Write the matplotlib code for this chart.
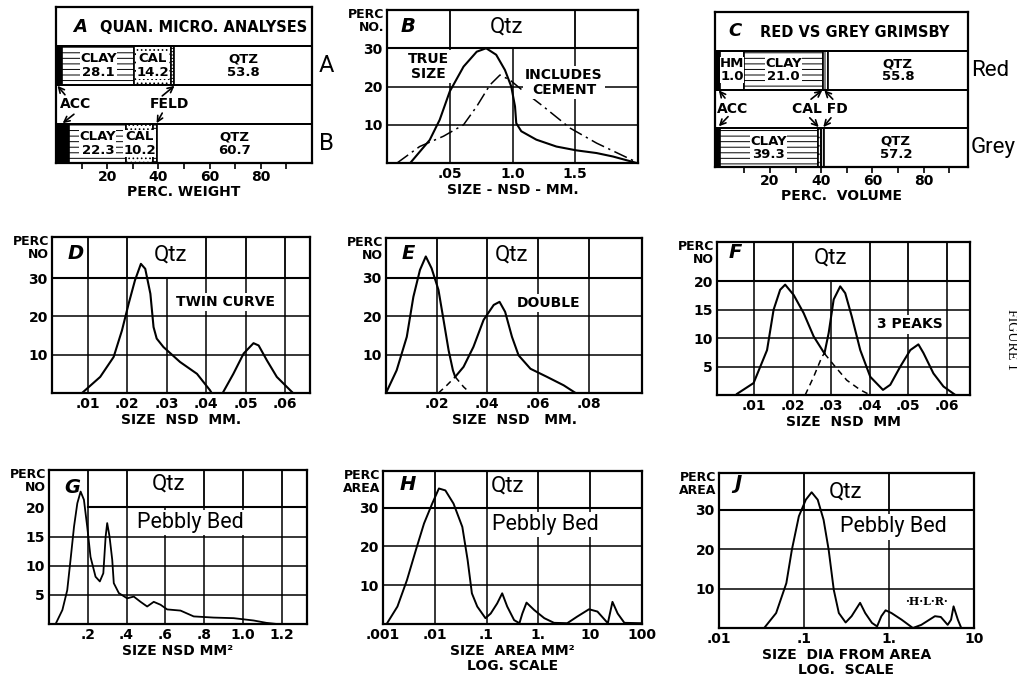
import matplotlib
matplotlib.use('Agg')
import matplotlib.pyplot as plt
from matplotlib.ticker import NullLocator
import numpy as np

plt.rcParams['font.family'] = ['DejaVu Sans']
plt.rcParams['hatch.linewidth'] = 0.7

NARROW = ['Roboto', 'DejaVu Sans']

# A: quan. micro. analyses, perc. weight (ACC, CLAY, CAL, FELD, QTZ)
a_parts = ['ACC', 'CLAY', 'CAL', 'FELD', 'QTZ']
a_row_a = [2.5, 28.1, 14.2, 1.4, 53.8]
a_row_b = [5.2, 22.3, 10.2, 1.6, 60.7]

# C: red vs grey grimsby, perc. volume (widths as drawn, numbers as printed)
c_parts_red = ['ACC', 'HM', 'CLAY', 'CALFD', 'QTZ']
c_red_widths = [1.95, 9.4, 30.8, 1.95, 54.6]
c_red_labels = ['', 'HM\n1.0', 'CLAY\n21.0', '', 'QTZ\n55.8']
c_parts_grey = ['ACC', 'CLAY', 'CAL', 'FD', 'QTZ']
c_grey_widths = [1.95, 38.2, 1.2, 1.2, 56.1]
c_grey_labels = ['', 'CLAY\n39.3', '', '', 'QTZ\n57.2']

# B: Qtz, true size vs includes cement
b_x_true = [0.185, 0.34, 0.42, 0.50, 0.61, 0.715, 0.79, 0.87, 0.94, 0.99, 1.02, 1.03,
            1.07, 1.19, 1.35, 1.51, 1.67, 1.80, 1.99]
b_y_true = [0, 6.0, 11.3, 18.7, 25.2, 29.1, 30.0, 28.3, 24.3, 20.0, 14.8, 10.4,
            8.3, 6.1, 4.3, 3.3, 2.6, 1.7, 0]
b_x_cement = [0.08, 0.26, 0.45, 0.61, 0.715, 0.82, 0.90, 0.98, 1.09, 1.245, 1.46, 1.67, 1.99]
b_y_cement = [0, 4.3, 7.0, 10.0, 14.8, 20.4, 23.0, 21.7, 18.7, 14.8, 9.1, 5.2, 0.2]

# D: twin curve
d_x1 = [0.0086, 0.0132, 0.0166, 0.0187, 0.0204, 0.0220, 0.0235, 0.0246, 0.0259, 0.0267,
        0.0275, 0.0292, 0.0334, 0.0377, 0.0410, 0.0414]
d_y1 = [0, 4.2, 9.4, 16.3, 23.3, 29.4, 33.7, 32.4, 25.9, 17.2, 14.2, 12.0, 8.1, 5.0, 0.7, 0]
d_x2 = [0.0442, 0.0469, 0.0495, 0.0520, 0.0533, 0.0554, 0.0579, 0.0617, 0.0620]
d_y2 = [0, 5.0, 10.3, 13.0, 12.4, 8.5, 4.2, 0.3, 0]

# E: double
e_x1 = [0, 0.0042, 0.0082, 0.0108, 0.0134, 0.0157, 0.0180, 0.0207, 0.0227, 0.0247,
        0.0264, 0.0273, 0.0306, 0.0332]
e_y1 = [0, 5.9, 14.6, 25.0, 32.0, 35.5, 32.4, 26.8, 19.0, 11.1, 5.9, 4.2, 1.6, 0]
e_x2 = [0.0207, 0.0240, 0.0273, 0.0306, 0.0345, 0.0385, 0.0425, 0.0448, 0.0470, 0.0497,
        0.0523, 0.0570, 0.0635, 0.0701, 0.0748]
e_y2 = [0, 2.0, 4.2, 6.8, 12.0, 19.0, 22.9, 23.7, 21.1, 14.6, 9.8, 6.3, 4.2, 2.0, 0]
e_cross = 0.0273

# F: 3 peaks
f_x1 = [0.0055, 0.0098, 0.0133, 0.0150, 0.0167, 0.0180, 0.0202, 0.0228, 0.0254, 0.0282,
        0.0306, 0.0340, 0.0375, 0.0401]
f_y1 = [0.2, 2.1, 7.9, 15.0, 18.5, 19.4, 17.6, 14.4, 10.3, 7.3, 5.3, 2.6, 0.9, 0]
f_x2 = [0.0232, 0.0254, 0.0276, 0.0282, 0.0293, 0.0306, 0.0323, 0.0336, 0.0353, 0.0375,
        0.0401, 0.0434, 0.0453, 0.0479, 0.0505, 0.0526, 0.0539, 0.0565, 0.0591, 0.0622]
f_y2 = [0, 3.2, 6.8, 7.3, 10.9, 16.8, 19.1, 17.9, 13.8, 7.9, 3.2, 0.9, 1.8, 5.0, 7.9, 8.9,
        7.4, 3.8, 1.5, 0]
f_cross = 0.0282

# G: pebbly bed, size nsd mm2
g_x = [0.034, 0.069, 0.094, 0.111, 0.129, 0.146, 0.163, 0.180, 0.197, 0.214, 0.240, 0.262,
       0.280, 0.292, 0.300, 0.312, 0.326, 0.334, 0.360, 0.403, 0.437, 0.472, 0.506, 0.540,
       0.575, 0.609, 0.678, 0.746, 0.849, 0.952, 1.055, 1.12, 1.175]
g_y = [0, 2.4, 5.8, 11.0, 16.7, 20.7, 22.7, 21.3, 16.7, 11.5, 8.1, 7.3, 8.7, 15.0, 17.3,
       15.0, 11.0, 7.0, 5.3, 4.4, 4.7, 3.8, 3.0, 3.8, 3.3, 2.5, 2.3, 1.3, 1.1, 1.0, 0.6, 0.2, 0]

# H: pebbly bed, size area mm2 (log)
h_x = [0.0012, 0.0019, 0.0029, 0.0043, 0.0062, 0.0089, 0.012, 0.016, 0.023, 0.034, 0.043,
       0.052, 0.066, 0.095, 0.12, 0.16, 0.20, 0.25, 0.34, 0.43, 0.49, 0.59, 0.83, 1.3, 2.0,
       3.6, 5.6, 9.5, 13.8, 21.9, 26.9, 33.9, 45.7, 95]
h_y = [0.2, 4.5, 11.3, 19.0, 25.9, 31.0, 34.9, 34.4, 31.0, 25.0, 16.5, 7.9, 4.5, 1.5, 2.7,
       5.3, 7.9, 4.5, 1.0, 0.2, 2.7, 5.5, 3.6, 1.5, 0.3, 0.2, 1.9, 3.8, 3.2, 0.2, 5.7, 2.7,
       0.3, 0.2]

# J: pebbly bed, size dia from area (log)
j_x = [0.034, 0.047, 0.062, 0.072, 0.087, 0.105, 0.123, 0.145, 0.17, 0.195, 0.224, 0.257,
       0.309, 0.363, 0.457, 0.525, 0.63, 0.724, 0.813, 0.912, 1.07, 1.41, 1.91, 2.4, 3.47,
       4.07, 4.9, 5.37, 5.75, 6.46, 7.08]
j_y = [0, 3.8, 11.4, 19.9, 28.4, 32.6, 34.5, 32.6, 27.5, 19.9, 9.7, 3.8, 1.4, 3.0, 6.4, 3.8,
       1.3, 0.4, 3.0, 4.5, 3.8, 2.1, 0, 0.8, 3.0, 2.8, 0.8, 2.1, 5.5, 2.1, 0]

SEG_STYLE = {
    'ACC': dict(color='black'),
    'HM': dict(color='white'),
    'CLAY': dict(color='white', hatch='---'),
    'CAL': dict(color='white', hatch='....'),
    'FELD': dict(color='white', hatch='-----'),
    'FD': dict(color='white', hatch='|||||'),
    'CALFD': dict(color='white', hatch='|||||'),
    'QTZ': dict(color='white'),
}

W, H = 1017, 679
fig = plt.figure(figsize=(W / 100, H / 100), dpi=100)


def add_box(left, top, right, bottom):
    # pixel box -> figure fraction
    return fig.add_axes([left / W, 1 - bottom / H, (right - left) / W, (bottom - top) / H])


def bold_ticks(ax, size=10):
    for lab in ax.get_xticklabels() + ax.get_yticklabels():
        lab.set_fontweight('bold')
        lab.set_fontsize(size)


def frame(ax):
    for s in ax.spines.values():
        s.set_linewidth(1.6)


def stacked_row(ax, y, parts, widths, labels, start):
    left = start
    for part, w, lab in zip(parts, widths, labels):
        ax.barh(y, w, left=left, height=1.0, edgecolor='black', linewidth=1.2,
                zorder=2, **SEG_STYLE[part])
        if lab:
            ax.text(left + w / 2, y, lab, ha='center', va='center', fontsize=9.5,
                    fontweight='bold', linespacing=1.0, zorder=5,
                    bbox=dict(fc='white', ec='none', pad=0.2))
        left += w


def arrow(ax, tail, tip, rad=0.0):
    ax.annotate('', xy=tip, xytext=tail,
                arrowprops=dict(arrowstyle='->', lw=1.2, color='black', shrinkA=0, shrinkB=0,
                                connectionstyle=f'arc3,rad={rad}'))


def bar_axes(ax, xlim, xlabel):
    ax.set_xlim(xlim)
    ax.set_ylim(0, 4)
    for y in (1, 2, 3):
        ax.axhline(y, color='black', lw=1.4, zorder=3)
    ax.set_yticks([])
    ax.set_xticks([20, 40, 60, 80])
    ax.set_xticks([10, 30, 50, 70, 90], minor=True)
    ax.tick_params(axis='x', which='both', direction='out', length=4, width=1.2, pad=1)
    bold_ticks(ax)
    ax.set_xlabel(xlabel, fontsize=10, fontweight='bold', labelpad=1)
    frame(ax)


def curve_axes(ax, xlim, ylim, head_y, rows, cols, head_cols, yticks, xticks, xticklabels,
               xlabel, ylabel, logx=False, head_from=None):
    if logx:
        ax.set_xscale('log')
    ax.set_xlim(xlim)
    ax.set_ylim(ylim)
    for y in rows:
        ax.axhline(y, color='black', lw=1.1, zorder=1)
    x0 = xlim[0] if head_from is None else head_from
    ax.plot([x0, xlim[1]], [head_y, head_y], color='black', lw=1.5, zorder=1)
    for x in cols:
        ax.plot([x, x], [0, head_y], color='black', lw=1.1, zorder=1)
    for x in head_cols:
        ax.plot([x, x], [head_y, ylim[1]], color='black', lw=1.3, zorder=1)
    ax.set_yticks(yticks)
    ax.set_yticklabels([str(v) for v in yticks])
    ax.set_xticks(xticks)
    ax.set_xticklabels(xticklabels)
    ax.xaxis.set_minor_locator(NullLocator())
    ax.tick_params(length=0, pad=3)
    bold_ticks(ax)
    ax.set_xlabel(xlabel, fontsize=10, fontweight='bold', labelpad=1, linespacing=1.1)
    ax.text(-0.012, 1.01, ylabel, transform=ax.transAxes, ha='right', va='top',
            fontsize=9, fontweight='bold', linespacing=1.0)
    frame(ax)


def heading(ax, letter, lx, ly, qx, qy):
    ax.text(lx, ly, letter, fontsize=14, fontstyle='italic', fontweight='bold',
            ha='center', va='center')
    ax.text(qx, qy, 'Qtz', fontsize=16, family=NARROW,
            ha='center', va='center', zorder=6)


def note(ax, x, y, s, size=10, narrow=False):
    kw = dict(family=NARROW) if narrow else dict(fontweight='bold')
    ax.text(x, y, s, fontsize=size, ha='center', va='center', linespacing=1.05, zorder=6,
            bbox=dict(fc='white', ec='none', pad=1.5), **kw)


def split_plot(ax, x1, y1, x2, y2, cross):
    x1, y1, x2, y2 = map(np.asarray, (x1, y1, x2, y2))
    ax.plot(x1[x1 <= cross], y1[x1 <= cross], color='black', lw=1.5, zorder=4)
    ax.plot(x1[x1 >= cross], y1[x1 >= cross], color='black', lw=1.1, ls=(0, (4, 3)), zorder=4)
    ax.plot(x2[x2 >= cross], y2[x2 >= cross], color='black', lw=1.5, zorder=4)
    ax.plot(x2[x2 <= cross], y2[x2 <= cross], color='black', lw=1.1, ls=(0, (4, 3)), zorder=4)


# ---------------- A ----------------
ax = add_box(56, 7, 312, 163)
bar_axes(ax, (0, 100), 'PERC. WEIGHT')
lab_a = ['' if p in ('ACC', 'FELD') else f'{p}\n{v}' for p, v in zip(a_parts, a_row_a)]
lab_b = ['' if p in ('ACC', 'FELD') else f'{p}\n{v}' for p, v in zip(a_parts, a_row_b)]
stacked_row(ax, 2.5, a_parts, a_row_a, lab_a, 0)
stacked_row(ax, 0.5, a_parts, a_row_b, lab_b, 0)
ax.text(9.4, 3.5, 'A', fontsize=13, fontstyle='italic', fontweight='bold', ha='center', va='center')
ax.text(57.5, 3.48, 'QUAN. MICRO. ANALYSES', fontsize=10.5, fontweight='bold', ha='center', va='center')
ax.text(7.5, 1.5, 'ACC', fontsize=10, fontweight='bold', ha='center', va='center')
ax.text(44.5, 1.5, 'FELD', fontsize=10, fontweight='bold', ha='center', va='center')
arrow(ax, (3.5, 1.75), (0.6, 1.98))
arrow(ax, (7.0, 1.25), (2.6, 1.02))
arrow(ax, (41.5, 1.72), (46.3, 1.98))
arrow(ax, (41.5, 1.28), (39.3, 1.02))
ax.text(105.5, 2.5, 'A', fontsize=17, family=NARROW, ha='center', va='center', clip_on=False)
ax.text(105.5, 0.5, 'B', fontsize=17, family=NARROW, ha='center', va='center', clip_on=False)

# ---------------- B ----------------
ax = add_box(387, 10, 638, 163)
curve_axes(ax, (0, 2.0), (0, 40), 30, [10, 20], [0.5, 1.0, 1.5], [0.5, 1.5], [10, 20, 30],
           [0.5, 1.0, 1.5], ['.05', '1.0', '1.5'], 'SIZE - NSD - MM.', 'PERC\nNO.')
ax.plot(b_x_true, b_y_true, color='black', lw=1.5, zorder=4)
ax.plot(b_x_cement, b_y_cement, color='black', lw=1.1, ls=(0, (9, 3, 1.5, 3)), zorder=4)
heading(ax, 'B', 0.17, 35.8, 0.95, 35.5)
note(ax, 0.33, 25.2, 'TRUE\nSIZE')
note(ax, 1.41, 21.1, 'INCLUDES\nCEMENT')

# ---------------- C ----------------
ax = add_box(715, 12, 968, 167)
bar_axes(ax, (-1.5, 97.3), 'PERC.  VOLUME')
stacked_row(ax, 2.5, c_parts_red, c_red_widths, c_red_labels, -1.5)
stacked_row(ax, 0.5, c_parts_grey, c_grey_widths, c_grey_labels, -1.5)
ax.text(6.3, 3.5, 'C', fontsize=13, fontstyle='italic', fontweight='bold', ha='center', va='center')
ax.text(53.0, 3.48, 'RED VS GREY GRIMSBY', fontsize=10.5, fontweight='bold', ha='center', va='center')
ax.text(5.5, 1.5, 'ACC', fontsize=10, fontweight='bold', ha='center', va='center')
ax.text(39.5, 1.5, 'CAL FD', fontsize=10, fontweight='bold', ha='center', va='center')
arrow(ax, (2.4, 1.78), (0.0, 1.98))
arrow(ax, (3.6, 1.3), (0.0, 1.05))
arrow(ax, (36.0, 1.75), (40.4, 1.98))
arrow(ax, (44.5, 1.75), (41.2, 1.98))
arrow(ax, (35.5, 1.27), (39.0, 1.03))
arrow(ax, (43.8, 1.27), (40.8, 1.03))
ax.text(98.5, 2.5, 'Red', fontsize=16, family=NARROW, ha='left', va='center', clip_on=False)
ax.text(98.5, 0.5, 'Grey', fontsize=16, family=NARROW, ha='left', va='center', clip_on=False)

# ---------------- D ----------------
ax = add_box(52, 237, 310, 393)
curve_axes(ax, (0.001, 0.0663), (0, 40.7), 30, [10, 20],
           [0.01, 0.02, 0.03, 0.04, 0.05, 0.06], [0.01, 0.02, 0.04, 0.05, 0.06], [10, 20, 30],
           [0.01, 0.02, 0.03, 0.04, 0.05, 0.06], ['.01', '.02', '.03', '.04', '.05', '.06'],
           'SIZE  NSD  MM.', 'PERC\nNO')
ax.plot(d_x1, d_y1, color='black', lw=1.5, zorder=4)
ax.plot(d_x2, d_y2, color='black', lw=1.5, zorder=4)
heading(ax, 'D', 0.0069, 36.4, 0.031, 36.0)
note(ax, 0.0448, 23.8, 'TWIN CURVE')

# ---------------- E ----------------
ax = add_box(386, 238, 642, 393)
curve_axes(ax, (0, 0.101), (0, 40.3), 30, [10, 20], [0.02, 0.04, 0.06, 0.08],
           [0.02, 0.04, 0.06, 0.08], [10, 20, 30],
           [0.02, 0.04, 0.06, 0.08], ['.02', '.04', '.06', '.08'],
           'SIZE  NSD   MM.', 'PERC\nNO')
split_plot(ax, e_x1, e_y1, e_x2, e_y2, e_cross)
heading(ax, 'E', 0.0088, 36.3, 0.0497, 35.8)
note(ax, 0.0642, 23.5, 'DOUBLE')

# ---------------- F ----------------
ax = add_box(717, 242, 970, 395)
curve_axes(ax, (0.0003, 0.066), (0, 26.9), 20, [5, 10, 15],
           [0.01, 0.02, 0.03, 0.04, 0.05, 0.06], [0.01, 0.02, 0.04, 0.05, 0.06], [5, 10, 15, 20],
           [0.01, 0.02, 0.03, 0.04, 0.05, 0.06], ['.01', '.02', '.03', '.04', '.05', '.06'],
           'SIZE  NSD  MM', 'PERC\nNO')
split_plot(ax, f_x1, f_y1, f_x2, f_y2, f_cross)
heading(ax, 'F', 0.0051, 25.0, 0.0297, 24.0)
note(ax, 0.0505, 12.4, '3 PEAKS')

# ---------------- G ----------------
ax = add_box(49, 470, 307, 624)
curve_axes(ax, (0, 1.33), (0, 26.4), 20, [5, 10, 15], [0.2, 0.4, 0.6, 0.8, 1.0, 1.2],
           [0.2, 0.4, 0.8, 1.0, 1.2], [5, 10, 15, 20],
           [0.2, 0.4, 0.6, 0.8, 1.0, 1.2], ['.2', '.4', '.6', '.8', '1.0', '1.2'],
           'SIZE NSD MM\u00b2', 'PERC\nNO', head_from=0.2)
ax.plot(g_x, g_y, color='black', lw=1.3, zorder=4)
heading(ax, 'G', 0.12, 23.4, 0.617, 24.0)
note(ax, 0.73, 17.4, 'Pebbly Bed', size=15.5, narrow=True)

# ---------------- H ----------------
ax = add_box(383, 471, 642, 624)
curve_axes(ax, (0.001, 100), (0, 39.4), 30, [10, 20], [0.01, 0.1, 1, 10],
           [0.01, 0.1, 1, 10], [10, 20, 30],
           [0.001, 0.01, 0.1, 1, 10, 100], ['.001', '.01', '.1', '1.', '10', '100'],
           'SIZE  AREA MM\u00b2\nLOG. SCALE', 'PERC\nAREA', logx=True)
ax.plot(h_x, h_y, color='black', lw=1.4, zorder=4)
heading(ax, 'H', 0.003, 36.0, 0.25, 35.6)
note(ax, 1.38, 25.7, 'Pebbly Bed', size=15.5, narrow=True)

# ---------------- J ----------------
ax = add_box(719, 473, 974, 628)
curve_axes(ax, (0.01, 10), (0, 39.4), 30, [10, 20], [0.1, 1], [0.1, 1], [10, 20, 30],
           [0.01, 0.1, 1, 10], ['.01', '.1', '1.', '10'],
           'SIZE  DIA FROM AREA\nLOG.  SCALE', 'PERC\nAREA', logx=True)
ax.plot(j_x, j_y, color='black', lw=1.4, zorder=4)
heading(ax, 'J', 0.0166, 36.8, 0.306, 34.6)
note(ax, 1.12, 25.7, 'Pebbly Bed', size=15.5, narrow=True)
ax.text(2.75, 6.8, '\u00b7H\u00b7L\u00b7R\u00b7', fontsize=8, family='DejaVu Serif',
        fontweight='bold', ha='center', va='center')

fig.text(0.995, 0.5, 'FIGURE 1', rotation=270, fontsize=10, family=['Liberation Serif', 'DejaVu Serif'],
         ha='center', va='center')

fig.savefig('out.png', dpi=100)
